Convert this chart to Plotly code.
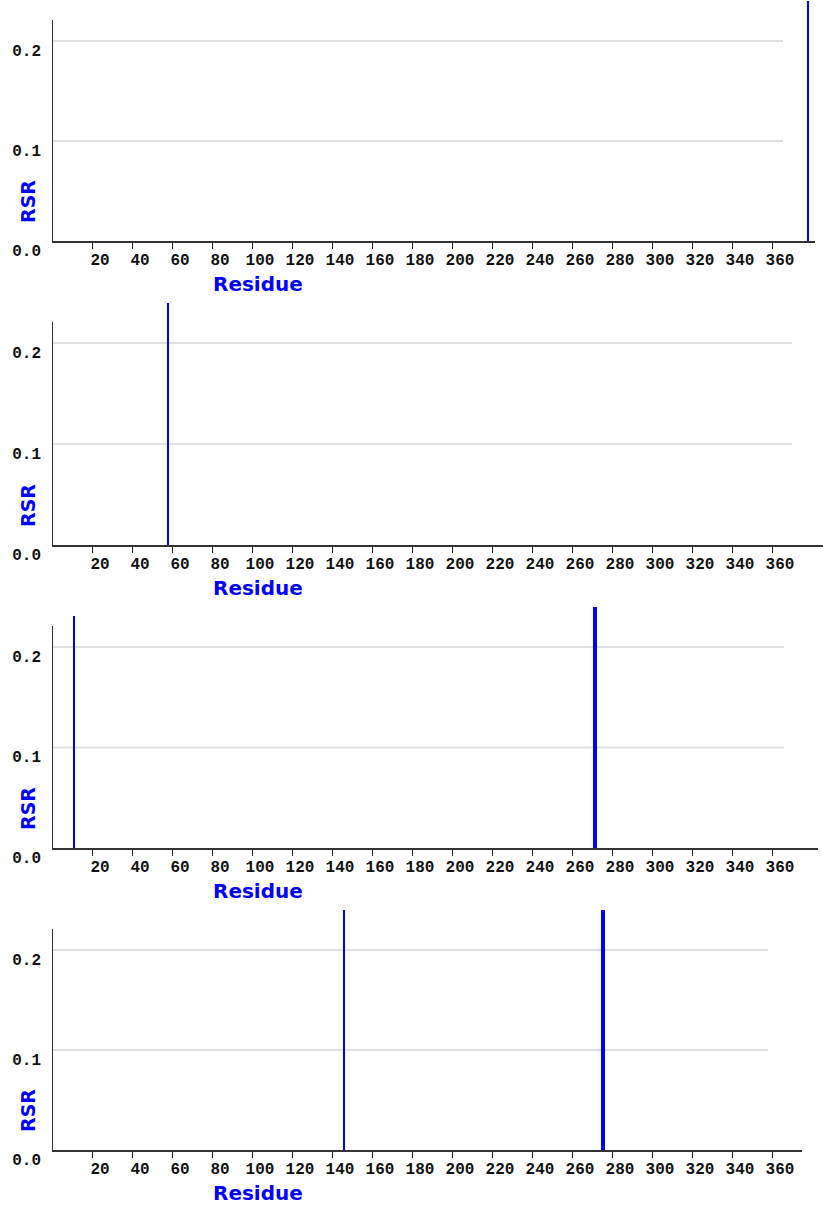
import plotly.graph_objects as go

# ---- data ----
p1_residues = [378]
p1_rsr = [0.24]
p2_residues = [58]
p2_rsr = [0.24]
p3_residues = [11, 271, 272]
p3_rsr = [0.231, 0.24, 0.24]
p4_residues = [146, 275, 276]
p4_rsr = [0.24, 0.24, 0.24]

x_ticks = list(range(20, 361, 20))
y_ticks = [0.0, 0.1, 0.2]
x_title = "Residue"
y_title = "RSR"

panels = [
    (p1_residues, p1_rsr),
    (p2_residues, p2_rsr),
    (p3_residues, p3_rsr),
    (p4_residues, p4_rsr),
]

# ---- layout geometry (pixels) ----
W, H = 823, 1207
X0 = 52                      # pixel of residue 0
PX_PER_RES = 2.0
axis_y_px = [241, 545, 848, 1150]
axis_end_px = [815, 823, 818, 802]
px_per_unit = [1000, 1010, 1005, 1000]
grid_end_res = [365.5, 370, 366, 358]
y_top = 0.24
y_axis_top = 0.221

BLUE = "#0000ff"
tick_font = dict(family="Liberation Mono", size=16, color="#111111", weight="bold")
xtitle_font = dict(family="DejaVu Sans", size=20, color=BLUE, weight="bold")
ytitle_font = dict(family="DejaVu Sans", size=19, color=BLUE, weight="bold")

fig = go.Figure()
shapes = []
annotations = []
layout = dict(
    width=W, height=H, autosize=False,
    margin=dict(l=0, r=0, t=0, b=0, pad=0, autoexpand=False),
    paper_bgcolor="white", plot_bgcolor="white",
    showlegend=False,
    bargap=0,
)

for i, (res, vals) in enumerate(panels):
    n = "" if i == 0 else str(i + 1)
    xa, ya = "x" + n, "y" + n
    fig.add_trace(go.Bar(
        x=res, y=vals, width=[1] * len(res),
        marker=dict(color=BLUE, line=dict(width=0)),
        xaxis=xa, yaxis=ya, hoverinfo="skip",
    ))
    ay = axis_y_px[i]
    top_px = ay - y_top * px_per_unit[i]
    x_max = (axis_end_px[i] - X0) / PX_PER_RES
    layout["xaxis" + n] = dict(
        domain=[X0 / W, min(axis_end_px[i], W) / W],
        range=[0, x_max], automargin=False,
        anchor=ya,
        showgrid=False, zeroline=False,
        showline=True, linecolor="#333333", linewidth=2,
        ticks="outside", ticklen=6, tickwidth=1, tickcolor="#222222",
        tickvals=x_ticks, ticktext=[str(t) for t in x_ticks],
        tickfont=tick_font, ticklabelshift=8, ticklabelstandoff=-3,
        fixedrange=True,
    )
    layout["yaxis" + n] = dict(
        domain=[1 - ay / H, 1 - max(top_px, 0) / H],
        range=[0, y_top if top_px >= 0 else ay / px_per_unit[i]],
        anchor=xa, automargin=False,
        showgrid=False, zeroline=False, showline=False,
        ticks="", tickvals=y_ticks, ticktext=["%.1f" % v for v in y_ticks],
        tickfont=tick_font, ticklabelshift=9, ticklabelstandoff=10,
        fixedrange=True,
    )
    for gv in [0.1, 0.2]:
        shapes.append(dict(type="line", xref=xa, yref=ya, x0=0, x1=grid_end_res[i],
                           y0=gv, y1=gv, line=dict(color="#e0e0e0", width=2), layer="below"))
    shapes.append(dict(type="line", xref=xa, yref=ya, x0=0, x1=0, y0=0, y1=y_axis_top,
                       line=dict(color="#333333", width=2)))
    annotations.append(dict(text=y_title, xref="paper", yref="paper",
                            x=28 / W, y=1 - (ay - 39) / H, xanchor="center", yanchor="middle",
                            textangle=-90, showarrow=False, font=ytitle_font))
    annotations.append(dict(text=x_title, xref="paper", yref="paper",
                            x=258 / W, y=1 - (ay + 43) / H, xanchor="center", yanchor="middle",
                            showarrow=False, font=xtitle_font))

layout["shapes"] = shapes
layout["annotations"] = annotations
fig.update_layout(**layout)
fig.write_html(
    "out.html",
    config={"displayModeBar": False, "responsive": False},
    post_script="document.documentElement.style.margin='0';document.body.style.margin='0';document.body.style.padding='0';",
)
